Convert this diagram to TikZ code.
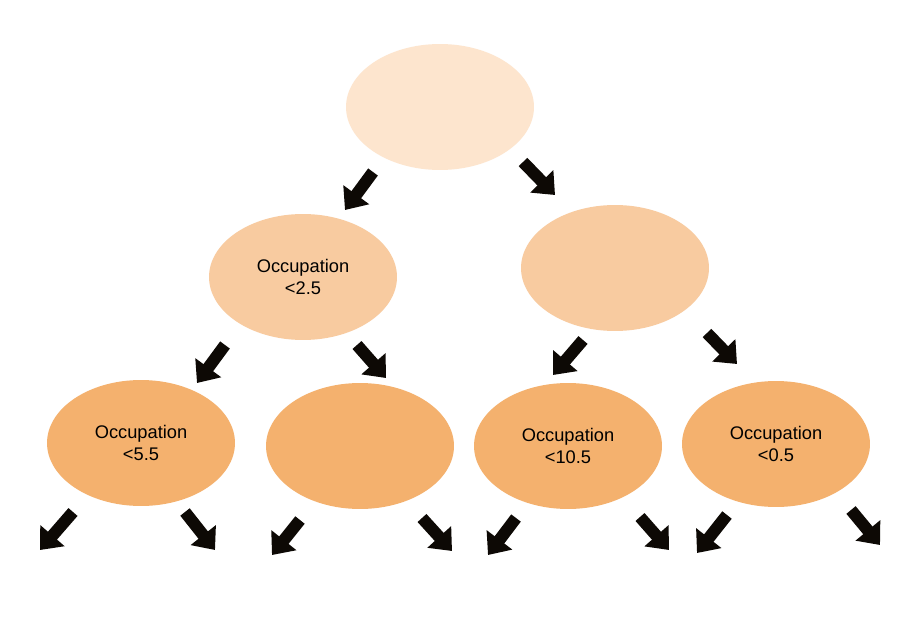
\documentclass[tikz,border=0pt]{standalone}
\usepackage{fontspec}
\setmainfont{Liberation Sans}
\usepackage{xcolor}
\usetikzlibrary{shapes.geometric, arrows.meta}

\definecolor{rootfill}{HTML}{FDE5CE}
\definecolor{midfill}{HTML}{F8CBA0}
\definecolor{leaffill}{HTML}{F4B16E}
\definecolor{arrowink}{HTML}{0D0905}

\begin{document}
\begin{tikzpicture}[
    x=0.02cm, y=-0.02cm,
    split/.style={ellipse, draw=none, minimum width=3.76cm, minimum height=2.52cm, inner sep=0pt, align=center, font=\fontsize{10.4}{12.5}\selectfont},
    barrow/.style={-{Triangle[length=0.38cm, width=0.62cm]}, line width=0.24cm, draw=arrowink, fill=arrowink},
]
    \useasboundingbox[fill=white] (0,0) rectangle (905,628);

    \node[split, fill=rootfill] (root) at (440,107) {};
    \node[split, fill=midfill] (occA) at (303,277) {Occupation\\<2.5};
    \node[split, fill=midfill] (occB) at (615,268) {};
    \node[split, fill=leaffill] (leafA) at (141,443) {Occupation\\<5.5};
    \node[split, fill=leaffill] (leafB) at (360,446) {};
    \node[split, fill=leaffill] (leafC) at (568,446) {Occupation\\<10.5};
    \node[split, fill=leaffill] (leafD) at (776,444) {Occupation\\<0.5};

    % branches of the tree
    \draw[barrow] ([shift={(-67,65)}]root.center) -- ++(-28,38);
    \draw[barrow] ([shift={(83,55)}]root.center) -- ++(32,33);
    \draw[barrow] ([shift={(-78,68)}]occA.center) -- ++(-28,38);
    \draw[barrow] ([shift={(54,68)}]occA.center) -- ++(29,33);
    \draw[barrow] ([shift={(-32,72)}]occB.center) -- ++(-30,35);
    \draw[barrow] ([shift={(92,65)}]occB.center) -- ++(30,31);

    % open ends below the leaves
    \draw[barrow] ([shift={(-68,69)}]leafA.center) -- ++(-33,38);
    \draw[barrow] ([shift={(44,69)}]leafA.center) -- ++(30,38);
    \draw[barrow] ([shift={(-60,74)}]leafB.center) -- ++(-28,35);
    \draw[barrow] ([shift={(62,72)}]leafB.center) -- ++(30,33);
    \draw[barrow] ([shift={(-52,72)}]leafC.center) -- ++(-28,37);
    \draw[barrow] ([shift={(72,71)}]leafC.center) -- ++(29,33);
    \draw[barrow] ([shift={(-49,71)}]leafD.center) -- ++(-30,38);
    \draw[barrow] ([shift={(75,66)}]leafD.center) -- ++(29,35);
\end{tikzpicture}
\end{document}
